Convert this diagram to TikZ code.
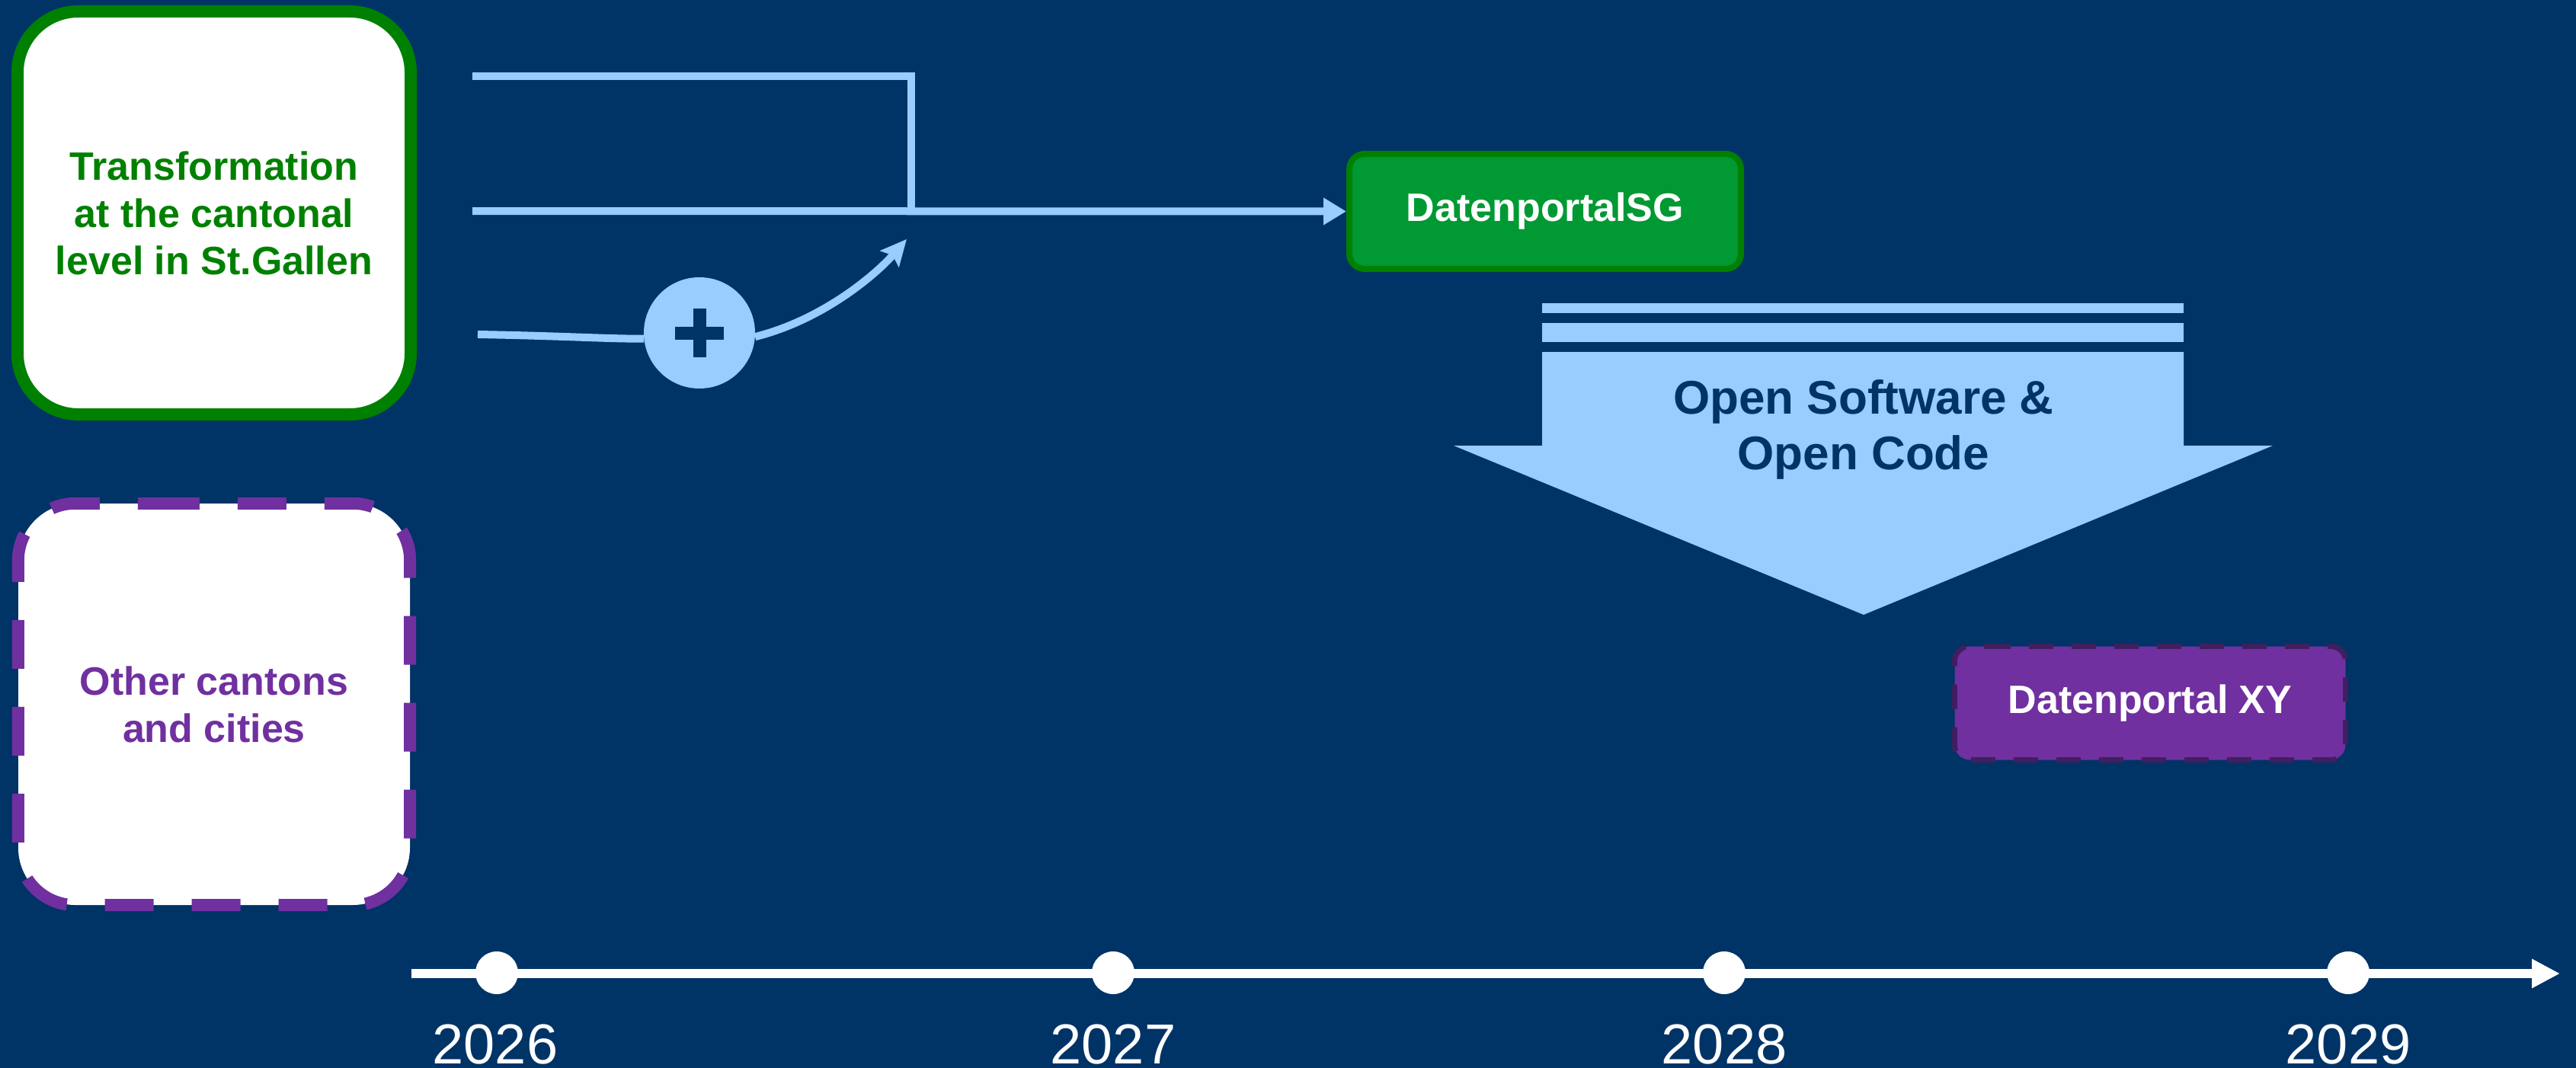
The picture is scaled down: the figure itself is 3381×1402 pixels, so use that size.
\documentclass[tikz,border=0pt]{standalone}
\usepackage{fontspec}
\setmainfont{Liberation Sans}
\usetikzlibrary{arrows.meta}
\definecolor{bgnavy}{RGB}{0,51,102}
\definecolor{lblue}{RGB}{153,204,255}
\definecolor{dgreen}{RGB}{0,128,0}
\definecolor{mgreen}{RGB}{0,153,51}
\definecolor{purp}{RGB}{112,48,160}
\definecolor{dpurp}{RGB}{64,31,96}
\begin{document}
\begin{tikzpicture}[x=1pt,y=-1pt,
  bigbox/.style={fill=white, rounded corners=80pt, inner sep=0pt, align=center,
    font=\fontsize{52}{62}\selectfont\bfseries},
  portal/.style={rounded corners=20pt, inner sep=0pt, text=white,
    font=\fontsize{52}{62}\selectfont\bfseries},
  conn/.style={draw=lblue, line width=10pt},
  dot/.style={circle, fill=white, minimum size=56pt, inner sep=0pt},
  year/.style={anchor=base, text=white, font=\fontsize{74}{80}\selectfont}]
% background
\fill[bgnavy] (0,0) rectangle (3381,1402);
\useasboundingbox (0,0) rectangle (3381,1402);

% left boxes
\node[bigbox, draw=dgreen, line width=16pt, text=dgreen, minimum width=516pt, minimum height=529pt]
  (sgbox) at (281,279.5) {Transformation\\at the cantonal\\level in St.Gallen};
\node[bigbox, text=purp, rounded corners=75pt, minimum width=514pt, minimum height=527pt]
  (other) at (281,924.5) {Other cantons\\and cities};
\draw[purp, line width=16pt, rounded corners=75pt, dash pattern=on 64pt off 50pt]
  ([xshift=174pt]other.north west) -- (other.north east) -- (other.south east)
  -- (other.south west) -- (other.north west) -- ([xshift=174pt]other.north west);

% portals
\node[portal, draw=dgreen, fill=mgreen, line width=8pt, minimum width=514pt, minimum height=151pt]
  (sg) at (2028,277.5) {DatenportalSG};
\node[portal, fill=purp, minimum width=513pt, minimum height=149pt]
  (xy) at (2822,923) {Datenportal XY};
\draw[dpurp, line width=7pt, rounded corners=20pt, dash pattern=on 32pt off 24pt]
  ([xshift=41.5pt]xy.north west) -- (xy.north east) -- (xy.south east)
  -- (xy.south west) -- (xy.north west) -- ([xshift=41.5pt]xy.north west);

% connectors
\coordinate (in1) at (620,100);
\coordinate (in2) at (620,277);
\coordinate (in3) at (627,439);
\coordinate (join) at (1196,277);
\coordinate (tip) at (1190,314);
\node[circle, fill=lblue, minimum size=146pt, inner sep=0pt] (plus) at (918,437) {};
\fill[bgnavy] ([shift={(-32,-8.5)}]plus.center) rectangle ++(64,17);
\fill[bgnavy] ([shift={(-8.5,-32)}]plus.center) rectangle ++(17,64);

\draw[conn] (in1) -| (join);
\draw[conn, -{Triangle[length=30pt,width=34pt]}] (in2) -- (sg.west);
\draw[conn] (in3) .. controls (740,441) and (800,445) .. (plus.186);
\draw[conn, -{Stealth[length=34pt,width=32pt,inset=6pt]}] (plus.-4) .. controls (1080,420) and (1150,360) .. (tip);

% Open Software arrow
\fill[lblue] (2024,398) rectangle (2866,411);
\fill[lblue] (2024,424) rectangle (2866,449);
\fill[lblue] (2024,462) -- (2866,462) -- (2866,585) -- (2983,585) -- (2446,807) -- (1908,585) -- (2024,585) -- cycle;
\node[align=center, text=bgnavy, font=\fontsize{62}{73}\selectfont\bfseries]
  (oss) at (2446,563.5) {Open Software \&\\Open Code};

% timeline
\coordinate (tl0) at (540,1278);
\coordinate (tl1) at (3360,1278);
\draw[white, line width=12pt, -{Triangle[length=37pt,width=36pt]}] (tl0) -- (tl1);
\node[dot] (d26) at (652,1277) {};
\node[dot] (d27) at (1461,1277) {};
\node[dot] (d28) at (2263,1277) {};
\node[dot] (d29) at (3082,1277) {};
\node[year] (y26) at (650,1396) {2026};
\node[year] (y27) at (1461,1396) {2027};
\node[year] (y28) at (2263,1396) {2028};
\node[year] (y29) at (3082,1396) {2029};
\end{tikzpicture}
\end{document}
